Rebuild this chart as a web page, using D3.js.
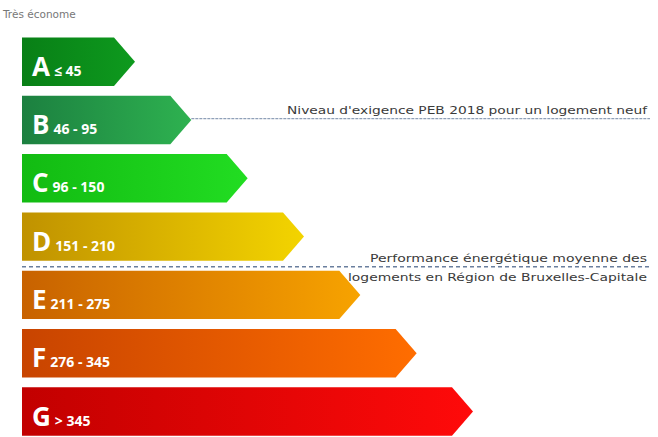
<!DOCTYPE html>
<html><head><meta charset="utf-8">
<script src="https://cdn.jsdelivr.net/npm/d3@7"></script>
<style>html,body{margin:0;padding:0;background:#fff;}svg{display:block;}</style>
</head><body>
<svg id="c" width="658" height="437"></svg>
<script>
const classes = ["A","B","C","D","E","F","G"];
const ranges = ["≤ 45","46 - 95","96 - 150","151 - 210","211 - 275","276 - 345","> 345"];
const rank = [1,2,3,4,5,6,7];
const colorsDark = ["#087f16","#1c8040","#12bb12","#c09200","#c86200","#c84400","#c20000"];
const colorsLight = ["#0e9a1e","#2eb250","#22dd22","#f3d400","#f7a300","#ff6d00","#ff0a0a"];
const titleText = "Très économe";
const refLineB = ["Niveau d'exigence PEB 2018 pour un logement neuf"];
const refLineD = ["Performance énergétique moyenne des","logements en Région de Bruxelles-Capitale"];

const svg = d3.select("#c");
const y = d3.scaleBand().domain(classes).range([37.5, 37.5 + 58.3*6.83]).paddingInner(0.17).paddingOuter(0);
const x = d3.scaleLinear().domain([1,7]).range([135, 473]);
const x0 = 22, tipDepth = 21;

const defs = svg.append("defs");
classes.forEach((c,i)=>{
  const g = defs.append("linearGradient").attr("id","g"+c).attr("x1","0").attr("x2","1").attr("y1","0").attr("y2","0");
  g.append("stop").attr("offset","0").attr("stop-color",colorsDark[i]);
  g.append("stop").attr("offset","1").attr("stop-color",colorsLight[i]);
});

svg.append("text").attr("x",3).attr("y",18).attr("font-family","DejaVu Sans, sans-serif")
  .attr("font-size",10.5).attr("fill","#777").text(titleText);

const bh = y.bandwidth();
const gBars = svg.append("g");
classes.forEach((c,i)=>{
  const top = y(c), tip = x(rank[i]), h = bh;
  const p = d3.path();
  p.moveTo(x0, top); p.lineTo(tip - tipDepth, top); p.lineTo(tip, top + h/2);
  p.lineTo(tip - tipDepth, top + h); p.lineTo(x0, top + h); p.closePath();
  gBars.append("path").attr("d", p.toString()).attr("fill","url(#g"+c+")");
  const t = gBars.append("text").attr("x", x0 + 10).attr("y", top + h*0.79)
    .attr("font-family","Open Sans, DejaVu Sans, sans-serif").attr("font-weight","bold").attr("fill","#fff");
  t.append("tspan").attr("font-size",26).text(c);
  t.append("tspan").attr("font-size",14).attr("dx",4).text(ranges[i]);
});

function label(xr, yy, txt, w){
  svg.append("text").attr("x", xr - w).attr("y", yy)
    .attr("font-family","DejaVu Sans, sans-serif").attr("font-size",10.5).attr("fill","#3a3a3a")
    .attr("textLength", w).attr("lengthAdjust","spacingAndGlyphs").text(txt);
}
// reference line B
{
  const i = classes.indexOf("B");
  const yy = y("B") + bh*0.47;
  svg.append("line").attr("x1", x(rank[i])).attr("x2", 650).attr("y1", yy).attr("y2", yy)
    .attr("stroke","#8fa0b8").attr("stroke-width",1.2).attr("stroke-dasharray","3,1");
  label(647, yy-5, refLineB[0], 360);
}
// reference line D
{
  const yy = y("D") + bh + (y.step()-bh)/2 + 1;
  svg.append("line").attr("x1", x0).attr("x2", 650).attr("y1", yy).attr("y2", yy)
    .attr("stroke","#6a7f9e").attr("stroke-width",1.6).attr("stroke-dasharray","4,3");
  label(647, yy-5, refLineD[0], 277);
  label(647, yy+14, refLineD[1], 299);
}
</script>
</body></html>
